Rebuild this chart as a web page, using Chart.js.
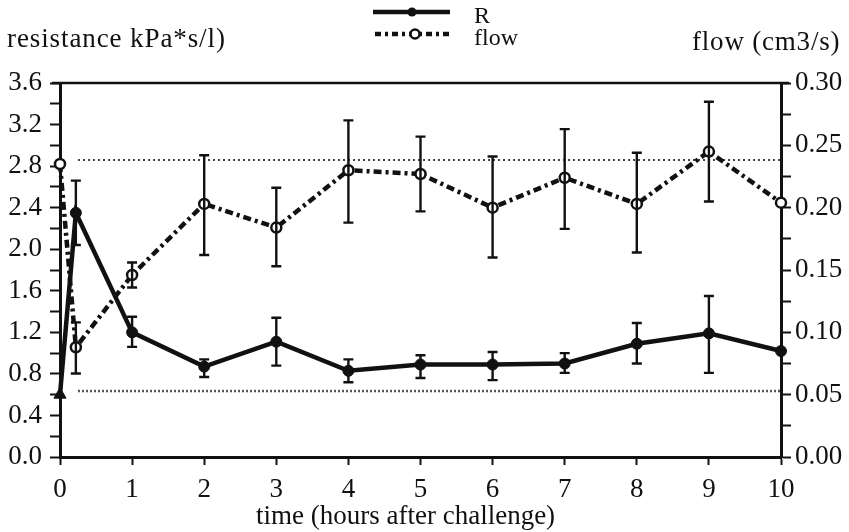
<!DOCTYPE html>
<html>
<head>
<meta charset="utf-8">
<script src="https://cdn.jsdelivr.net/npm/chart.js@4.4.1/dist/chart.umd.min.js"></script>
<style>
  html, body { margin: 0; padding: 0; background: #fff; }
  #wrap { position: relative; width: 849px; height: 532px; font-family: "Liberation Serif", "Times New Roman", serif; color: #111; }
  #chart { position: absolute; left: 0; top: 0; }
  .lbl { position: absolute; white-space: nowrap; line-height: 1; }
  #legend { position: absolute; left: 370px; top: 0; }
</style>
</head>
<body>
<div id="wrap">
  <canvas id="chart" width="849" height="532"></canvas>
  <div class="lbl" style="left:7px; top:25px; font-size:27px; letter-spacing:0.9px;">resistance kPa*s/l)</div>
  <div class="lbl" style="left:692px; top:28px; font-size:27px; letter-spacing:0.8px;">flow (cm3/s)</div>
  <div class="lbl" style="left:256px; top:502px; font-size:27px;">time (hours after challenge)</div>
  <svg id="legend" width="90" height="45">
    <line x1="3" y1="12" x2="80" y2="12" stroke="#111" stroke-width="4.5"/>
    <circle cx="42" cy="12" r="4.5" fill="#111"/>
    <line x1="5" y1="34" x2="80" y2="34" stroke="#111" stroke-width="4.5" stroke-dasharray="6,4,3,4"/>
    <circle cx="45" cy="34" r="4.5" fill="#fff" stroke="#111" stroke-width="2.5"/>
  </svg>
  <div class="lbl" style="left:474px; top:3px; font-size:24px;">R</div>
  <div class="lbl" style="left:474px; top:25px; font-size:24px;">flow</div>
</div>
<script>
// time points (hours after challenge)
const hours = [0, 0.22, 1, 2, 3, 4, 5, 6, 7, 8, 9, 10];

// resistance R (kPa*s/l), left axis
const rMean = [0.60, 2.35, 1.20, 0.87, 1.11, 0.83, 0.89, 0.89, 0.90, 1.09, 1.19, 1.02];
const rHigh = [null, 2.66, 1.35, 0.94, 1.34, 0.94, 0.98, 1.01, 1.00, 1.29, 1.55, null];
const rLow  = [null, 2.04, 1.06, 0.77, 0.88, 0.72, 0.76, 0.74, 0.81, 0.90, 0.81, null];

// flow (cm3/s), right axis
const flowMean = [0.235, 0.088, 0.146, 0.203, 0.184, 0.230, 0.227, 0.200, 0.224, 0.203, 0.245, 0.204];
const flowHigh = [null, 0.108, 0.156, 0.242, 0.216, 0.270, 0.257, 0.241, 0.263, 0.244, 0.285, null];
const flowLow  = [null, 0.067, 0.136, 0.162, 0.153, 0.188, 0.197, 0.160, 0.183, 0.164, 0.205, null];

// dotted reference levels (left axis units)
const refSpan = [0.25, 10];
const refUpper = [2.86, 2.86];
const refLower = [0.635, 0.635];

const FONT = "'Liberation Serif', 'Times New Roman', serif";
const INK = "#111";

function pts(xs, ys){ return xs.map((x, i) => ({x: x, y: ys[i]})); }

// vertical error bars with caps, through each dataset's own y scale
const errorBars = {
  id: "errorBars",
  afterDatasetsDraw(chart){
    const ctx = chart.ctx;
    const xs = chart.scales.x;
    chart.data.datasets.forEach(ds => {
      if(!ds.errHigh) return;
      const ys = chart.scales[ds.yAxisID];
      ctx.save();
      ctx.strokeStyle = INK;
      ctx.lineWidth = 2.4;
      ds.data.forEach((p, i) => {
        const hi = ds.errHigh[i], lo = ds.errLow[i];
        if(hi == null || lo == null) return;
        const px = xs.getPixelForValue(p.x);
        const yh = ys.getPixelForValue(hi);
        const yl = ys.getPixelForValue(lo);
        ctx.beginPath();
        ctx.moveTo(px, yh); ctx.lineTo(px, yl);
        ctx.moveTo(px - 5, yh); ctx.lineTo(px + 5, yh);
        ctx.moveTo(px - 5, yl); ctx.lineTo(px + 5, yl);
        ctx.stroke();
      });
      ctx.restore();
    });
  }
};

// top frame line
const topFrame = {
  id: "topFrame",
  afterDraw(chart){
    const a = chart.chartArea, ctx = chart.ctx;
    ctx.save();
    ctx.strokeStyle = INK;
    ctx.lineWidth = 2.5;
    ctx.beginPath();
    ctx.moveTo(a.left - 8, a.top);
    ctx.lineTo(a.right + 8, a.top);
    ctx.stroke();
    ctx.restore();
  }
};

const ctx = document.getElementById("chart");
new Chart(ctx, {
  type: "line",
  data: {
    datasets: [
      {
        label: "R",
        data: pts(hours, rMean),
        yAxisID: "y",
        borderColor: INK,
        backgroundColor: INK,
        borderWidth: 4.5,
        pointStyle: hours.map((h, i) => i === 0 ? "triangle" : "circle"),
        pointRadius: hours.map((h, i) => i === 0 ? 7 : 5.5),
        pointBorderWidth: 1,
        errHigh: rHigh,
        errLow: rLow,
        order: 1
      },
      {
        label: "flow",
        data: pts(hours, flowMean),
        yAxisID: "y1",
        borderColor: INK,
        backgroundColor: "#fff",
        borderWidth: 4.5,
        borderDash: [8, 4, 3, 4],
        pointRadius: 5,
        pointBorderWidth: 2.5,
        pointBackgroundColor: "#fff",
        pointBorderColor: INK,
        errHigh: flowHigh,
        errLow: flowLow,
        order: 2
      },
      {
        label: "upper",
        data: pts(refSpan, refUpper),
        yAxisID: "y",
        borderColor: "#444",
        borderWidth: 2,
        borderDash: [2, 3],
        pointRadius: 0,
        order: 5
      },
      {
        label: "lower",
        data: pts(refSpan, refLower),
        yAxisID: "y",
        borderColor: "#555",
        borderWidth: 2.5,
        borderDash: [2, 2],
        pointRadius: 0,
        order: 5
      }
    ]
  },
  options: {
    responsive: false,
    animation: false,
    clip: false,
    layout: { padding: { top: 83, left: 0, right: 0, bottom: 0 } },
    plugins: {
      legend: { display: false },
      tooltip: { enabled: false }
    },
    scales: {
      x: {
        type: "linear",
        min: 0, max: 10,
        afterFit(s){ s.height = 75; },
        border: { color: INK, width: 3 },
        grid: { drawOnChartArea: false, tickLength: 8, tickColor: INK, tickWidth: 2 },
        ticks: { stepSize: 1, color: INK, padding: 9, font: { family: FONT, size: 27 }, maxRotation: 0 }
      },
      y: {
        position: "left",
        min: 0, max: 3.6,
        afterFit(s){ s.width = 60; },
        border: { color: INK, width: 3 },
        grid: { drawOnChartArea: false, tickLength: 10, tickColor: INK, tickWidth: 2 },
        ticks: {
          stepSize: 0.2,
          autoSkip: false,
          color: INK,
          padding: 8,
          font: { family: FONT, size: 27 },
          callback: v => (Math.round(v * 10) % 4 === 0) ? v.toFixed(1) : ""
        }
      },
      y1: {
        position: "right",
        min: 0, max: 0.3,
        afterFit(s){ s.width = 68; },
        border: { color: INK, width: 3 },
        grid: { drawOnChartArea: false, tickLength: 10, tickColor: INK, tickWidth: 2 },
        ticks: {
          stepSize: 0.025,
          autoSkip: false,
          color: INK,
          padding: 4,
          font: { family: FONT, size: 27 },
          callback: v => (Math.round(v * 1000) % 50 === 0) ? v.toFixed(2) : ""
        }
      }
    }
  },
  plugins: [errorBars, topFrame]
});
</script>
</body>
</html>
